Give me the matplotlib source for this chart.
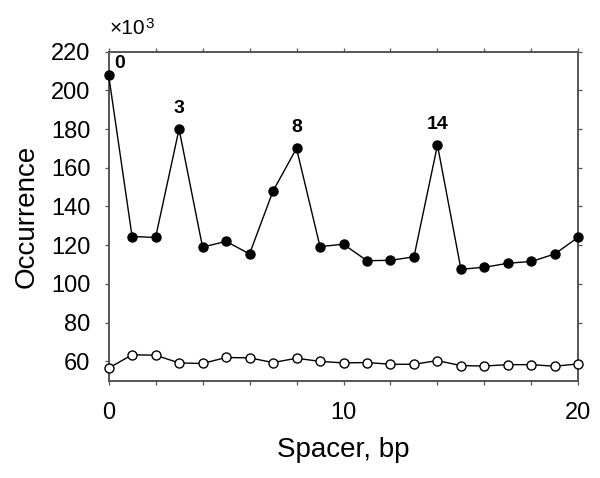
import matplotlib
matplotlib.use("Agg")
import matplotlib.pyplot as plt

plt.rcParams['font.family'] = ['Liberation Sans', 'DejaVu Sans']

spacer = list(range(21))
filled = [208, 124.5, 124, 180, 119, 122, 115.5, 148, 170, 119.3, 120.5,
          112, 112.2, 114, 171.7, 107.6, 108.6, 110.7, 111.6, 115.5, 124.2]
open_ = [56.5, 63.4, 63.2, 59.2, 58.9, 62, 61.8, 59.4, 61.6, 60, 59.2,
         59.4, 58.5, 58.5, 60.4, 57.8, 57.6, 58.3, 58.3, 57.5, 58.7]
peaks = [0, 3, 8, 14]
xticks = list(range(0, 21, 2))
xtick_labels = ['0', '', '', '', '', '10', '', '', '', '', '20']
yticks = [60, 80, 100, 120, 140, 160, 180, 200, 220]

fig = plt.figure(figsize=(6, 4.78), dpi=100)
ax = fig.add_axes([0.181, 0.2035, 0.783, 0.6885])

ax.plot(spacer, open_, '-o', color='black', lw=1.0, ms=6.5,
        mfc='white', mec='black', mew=1.0, clip_on=False, zorder=3)
ax.plot(spacer, filled, '-o', color='black', lw=1.0, ms=6.5,
        mfc='black', mec='black', clip_on=False, zorder=3)

for p in peaks:
    if p == 0:
        ax.annotate(str(p), (p, filled[p]), xytext=(4.3, 8), textcoords='offset points',
                    ha='left', va='center', fontsize=14, fontweight='bold')
    else:
        ax.annotate(str(p), (p, filled[p]), xytext=(0, 15), textcoords='offset points',
                    ha='center', va='center', fontsize=14, fontweight='bold')

ax.set_xlim(0, 20)
ax.set_ylim(50, 220)
ax.set_xticks(xticks)
ax.set_xticklabels(xtick_labels)
ax.set_yticks(yticks)
ax.set_yticklabels([str(v) for v in yticks])

for s in ax.spines.values():
    s.set_color('#555555')
    s.set_linewidth(1.4)

ax.tick_params(direction='out', length=3, width=0.9, color='#555555',
               top=True, right=True, labelsize=17)
ax.tick_params(axis='y', pad=10)
ax.tick_params(axis='x', pad=12)

ax.set_xlabel('Spacer, bp', fontsize=20, labelpad=10)
ax.set_ylabel('Occurrence', fontsize=20, labelpad=8)

fig.text(145 / 600, 1 - 28 / 478, '×10', fontsize=15, ha='right', va='center')
fig.text(145.5 / 600, 1 - 24 / 478, '3', fontsize=11, ha='left', va='center')

fig.savefig('out.png', dpi=100)
